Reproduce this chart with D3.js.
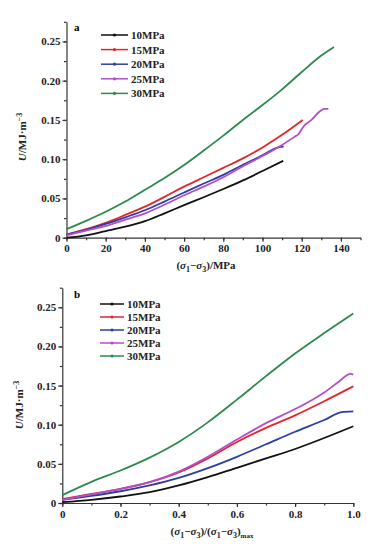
<!DOCTYPE html>
<html>
<head>
<meta charset="utf-8">
<script src="https://cdn.jsdelivr.net/npm/d3@7"></script>
<style>
  body { margin: 0; background: #fff; }
  svg { display: block; }
  .tick text { font-family: "Liberation Serif", "DejaVu Serif", serif; font-weight: bold; font-size: 11px; fill: #222; }
  .domain, .tick line { stroke: #333; stroke-width: 1.2; }
</style>
</head>
<body>
<script>
// series names and colours
var seriesNames = ["10MPa", "15MPa", "20MPa", "25MPa", "30MPa"];
var seriesColors = ["#111111", "#e3262d", "#2c3ea3", "#b24fc8", "#2b8a4c"];

// panel a : U vs (s1-s3) in MPa, [x, U]
var a10 = [[0,0.000],[10,0.003],[20,0.0085],[30,0.014],[40,0.021],[50,0.031],[60,0.0415],[70,0.0515],[80,0.062],[90,0.073],[100,0.085],[110.6,0.098]];
var a15 = [[0,0.004],[10,0.011],[20,0.019],[30,0.029],[40,0.0395],[50,0.052],[60,0.065],[70,0.077],[80,0.089],[90,0.101],[100,0.115],[110,0.131],[120.5,0.150]];
var a20 = [[0,0.004],[10,0.010],[20,0.0175],[30,0.026],[40,0.035],[50,0.046],[60,0.0576],[70,0.069],[80,0.080],[90,0.093],[100,0.105],[105,0.112],[108,0.115],[110.8,0.116]];
var a25 = [[0,0.003],[10,0.009],[20,0.015],[30,0.023],[40,0.031],[50,0.042],[60,0.054],[70,0.065],[80,0.077],[90,0.091],[100,0.104],[110,0.118],[116.6,0.129],[118,0.131],[121,0.142],[125,0.150],[129.3,0.161],[131.5,0.164],[133.6,0.164]];
var a30 = [[0,0.011],[10,0.0215],[20,0.033],[30,0.046],[40,0.061],[50,0.076],[60,0.0926],[70,0.111],[80,0.130],[90,0.150],[100,0.169],[110,0.189],[120,0.211],[130,0.232],[136.5,0.243]];

// panel b : U vs normalised deviator stress
var b10 = [[0,0.001],[0.1,0.004],[0.2,0.0083],[0.3,0.0138],[0.4,0.0224],[0.5,0.033],[0.6,0.045],[0.7,0.057],[0.8,0.069],[0.9,0.083],[1.0,0.098]];
var b15 = [[0,0.005],[0.1,0.0115],[0.2,0.018],[0.3,0.0266],[0.4,0.039],[0.5,0.057],[0.6,0.078],[0.7,0.096],[0.8,0.112],[0.9,0.130],[1.0,0.149]];
var b20 = [[0,0.004],[0.1,0.009],[0.2,0.015],[0.3,0.0224],[0.4,0.032],[0.5,0.0445],[0.6,0.059],[0.7,0.075],[0.8,0.091],[0.9,0.106],[0.96,0.116],[1.0,0.117]];
var b25 = [[0,0.004],[0.1,0.011],[0.2,0.018],[0.3,0.0266],[0.4,0.040],[0.5,0.059],[0.6,0.081],[0.7,0.102],[0.8,0.120],[0.86,0.132],[0.9,0.141],[0.95,0.155],[0.99,0.165],[1.0,0.164]];
var b30 = [[0,0.010],[0.1,0.027],[0.2,0.0415],[0.3,0.058],[0.4,0.078],[0.5,0.103],[0.6,0.132],[0.7,0.162],[0.8,0.191],[0.9,0.217],[1.0,0.242]];

// tick values
var yTicks = [0, 0.05, 0.10, 0.15, 0.20, 0.25];
var aXTicks = [0, 20, 40, 60, 80, 100, 120, 140];
var bXTicks = [0, 0.2, 0.4, 0.6, 0.8, 1.0];

var svg = d3.select("body").append("svg")
  .attr("width", 385)
  .attr("height", 547);

function drawPanel(p) {
  var x = d3.scaleLinear().domain(p.xDomain).range([p.left, p.right]);
  var y = d3.scaleLinear().domain([0, 0.275]).range([p.bottom, p.top]);
  var g = svg.append("g");

  // minor ticks
  g.append("g")
    .attr("transform", `translate(0,${p.bottom})`)
    .call(d3.axisBottom(x).tickValues(p.xMinor).tickSize(2.5).tickFormat(""))
    .select(".domain").remove();
  g.append("g")
    .attr("transform", `translate(${p.left},0)`)
    .call(d3.axisLeft(y).tickValues(d3.range(0, 0.2751, 0.025)).tickSize(2.5).tickFormat(""))
    .select(".domain").remove();

  // major axes
  g.append("g")
    .attr("transform", `translate(0,${p.bottom})`)
    .call(d3.axisBottom(x).tickValues(p.xTicks).tickSize(4).tickPadding(3).tickSizeOuter(0)
      .tickFormat(p.xFormat));
  g.append("g")
    .attr("transform", `translate(${p.left},0)`)
    .call(d3.axisLeft(y).tickValues(yTicks).tickSize(4).tickPadding(2).tickSizeOuter(0)
      .tickFormat(d => d === 0 ? "0" : d3.format(".2f")(d)));

  // curves
  var line = d3.line()
    .x(d => x(d[0]))
    .y(d => y(d[1]))
    .curve(d3.curveMonotoneX);
  p.series.forEach(function(s, i) {
    g.append("path")
      .datum(s)
      .attr("fill", "none")
      .attr("stroke", seriesColors[i])
      .attr("stroke-width", 1.8)
      .attr("d", line);
  });

  // panel letter
  g.append("text")
    .attr("x", p.letterX).attr("y", p.letterY)
    .style("font-family", "Liberation Serif, serif")
    .style("font-weight", "bold")
    .style("font-size", "11px")
    .text(p.letter);

  // legend
  var leg = g.append("g");
  seriesNames.forEach(function(name, i) {
    var ly = p.legY + i * p.legStep;
    leg.append("line")
      .attr("x1", p.legX).attr("x2", p.legX + p.legLen)
      .attr("y1", ly).attr("y2", ly)
      .attr("stroke", seriesColors[i]).attr("stroke-width", 1.5);
    leg.append("circle")
      .attr("cx", p.legX + p.legLen / 2).attr("cy", ly).attr("r", 1.6)
      .attr("fill", seriesColors[i]);
    leg.append("text")
      .attr("x", p.legX + p.legLen + 3).attr("y", ly + 4)
      .style("font-family", "Liberation Serif, serif")
      .style("font-weight", "bold")
      .style("font-size", "11px")
      .attr("fill", "#222")
      .text(name);
  });

  // y axis title  U/MJ·m-3
  var yt = g.append("text")
    .attr("transform", `translate(${p.yTitleX},${p.yTitleY}) rotate(-90)`)
    .attr("text-anchor", "middle")
    .style("font-family", "Liberation Serif, serif")
    .style("font-weight", "bold")
    .style("font-size", "11px")
    .attr("fill", "#222");
  yt.append("tspan").style("font-style", "italic").text("U");
  yt.append("tspan").text("/MJ·m");
  yt.append("tspan").attr("dy", -4).style("font-size", "8px").text("−3");

  // x axis title
  var xt = g.append("text")
    .attr("x", p.xTitleX).attr("y", p.xTitleY)
    .attr("text-anchor", "middle")
    .style("font-family", "Liberation Serif, serif")
    .style("font-weight", "bold")
    .style("font-size", "11px")
    .attr("fill", "#222");
  function sigmaDiff() {
    xt.append("tspan").text("(");
    xt.append("tspan").style("font-style", "italic").text("σ");
    xt.append("tspan").attr("dy", 3).style("font-size", "8px").text("1");
    xt.append("tspan").attr("dy", -3).text("−");
    xt.append("tspan").style("font-style", "italic").text("σ");
    xt.append("tspan").attr("dy", 3).style("font-size", "8px").text("3");
    xt.append("tspan").attr("dy", -3).text(")");
  }
  sigmaDiff();
  if (p.letter === "a") {
    xt.append("tspan").text("/MPa");
  } else {
    xt.append("tspan").text("/");
    sigmaDiff();
    xt.append("tspan").attr("dy", 3).style("font-size", "7px").text("max");
  }
}

drawPanel({
  letter: "a", letterX: 74, letterY: 31,
  xDomain: [0, 150], left: 66.5, right: 360.5, top: 21.8, bottom: 237.7,
  xTicks: aXTicks, xMinor: d3.range(0, 151, 10), xFormat: d3.format("d"),
  series: [a10, a15, a20, a25, a30],
  legX: 101, legY: 35, legStep: 14.6, legLen: 27,
  yTitleX: 26, yTitleY: 137, xTitleX: 206, xTitleY: 269
});

drawPanel({
  letter: "b", letterX: 74, letterY: 298,
  xDomain: [0, 1], left: 62.3, right: 353.3, top: 287.7, bottom: 503,
  xTicks: bXTicks, xMinor: d3.range(0, 1.001, 0.1), xFormat: d => d === 0 ? "0" : d3.format(".1f")(d),
  series: [b10, b15, b20, b25, b30],
  legX: 100, legY: 304, legStep: 13, legLen: 24,
  yTitleX: 23, yTitleY: 405, xTitleX: 212, xTitleY: 535
});
</script>
</body>
</html>
